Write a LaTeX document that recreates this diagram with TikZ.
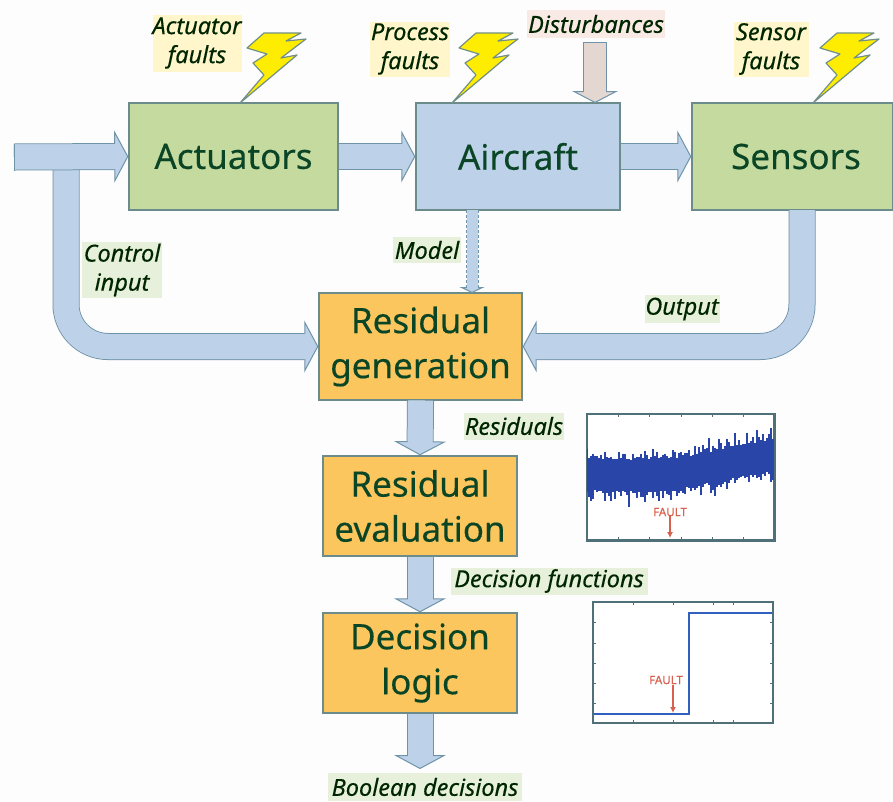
\documentclass[tikz,border=0pt]{standalone}
\usepackage{fontspec}
\setmainfont{Noto Sans}[UprightFeatures={FakeBold=.3},ItalicFeatures={FakeBold=.3}]
\usetikzlibrary{arrows.meta}
\definecolor{pagetint}{HTML}{FDFDFE}
\definecolor{flowblue}{HTML}{BDD2E8}
\definecolor{flowedge}{HTML}{6F93A8}
\definecolor{boxedge}{HTML}{6C8C8C}
\definecolor{greenbox}{HTML}{C4DA9E}
\definecolor{orangebox}{HTML}{FCC65E}
\definecolor{textgreen}{HTML}{0A4526}
\definecolor{paleyellow}{HTML}{FFF6CC}
\definecolor{palegreen}{HTML}{E6F0DA}
\definecolor{palepink}{HTML}{F9EAE6}
\definecolor{pinkarrow}{HTML}{E4D7D2}
\definecolor{noiseblue}{HTML}{2A45A8}
\definecolor{stepblue}{HTML}{3060C0}
\definecolor{faultred}{HTML}{D8604E}
\definecolor{frameedge}{HTML}{4F7078}
\tikzset{
	blockbox/.style={draw=boxedge,line width=1.4pt,text=textgreen,align=center,inner sep=0pt,font=\fontsize{35}{45}\selectfont},
	faultlabel/.style={inner sep=0pt,align=center,text=black!85!green,font=\fontsize{23.5}{29}\selectfont\itshape},
	flowline/.style n args={4}{double=#1,draw=flowedge,line width=1pt,double distance=#2,-{Triangle[length=#3,width=#4,fill=#1,line width=1pt]},
		postaction={draw=#1,double=#1,double distance=#2-2pt,line width=1pt,solid,-,shorten >=#3-2pt}},
	flowarrow/.style={flowline={flowblue}{25pt}{14pt}{52pt}},
	tailedge/.style={draw=flowedge,line width=1pt},
	boltshape/.style={fill=yellow!95!orange,draw=flowedge!80!olive,line width=1.2pt,line join=round},
	plotframe/.style={draw=frameedge,line width=1.5pt,inner sep=0pt},
	plottick/.style={draw=frameedge,line width=.8pt},
	faulttext/.style={inner sep=0pt,text=faultred,font=\fontsize{11.5}{12}\selectfont},
	faultarrow/.style={draw=faultred,line width=1.1pt,-{Latex[length=6pt,width=6pt]}}
}
\begin{document}
\begin{tikzpicture}[x=1pt,y=-1pt]
	\useasboundingbox (0,0) rectangle (893,801);
	\fill[pagetint] (0,0) rectangle (893,801);
	\node[blockbox,fill=greenbox,minimum width=209pt,minimum height=107pt] (actuators) at (233.5,156.5) {Actuators};
	\node[blockbox,fill=flowblue,minimum width=204pt,minimum height=107pt] (aircraft) at (518,156.5) {Aircraft};
	\node[blockbox,fill=greenbox,minimum width=201pt,minimum height=107pt] (sensors) at (792.5,156.5) {\hspace*{7pt}Sensors};
	\node[blockbox,fill=orangebox,minimum width=203pt,minimum height=107pt] (resgen) at (420.5,346.5) {Residual\\generation};
	\node[blockbox,fill=orangebox,minimum width=194pt,minimum height=100pt] (reseval) at (420,506) {Residual\\evaluation};
	\node[blockbox,fill=orangebox,minimum width=194pt,minimum height=100pt] (declogic) at (420,663) {Decision\\logic};
	\coordinate (input) at (14,157);
	\coordinate (inputtap) at (66,162);
	\coordinate (controlbend) at (66,346.5);
	\coordinate (outputbend) at (802,346.5);
	\coordinate (sensorsout) at (802,210);
	\coordinate (distin) at (595,42);
	\coordinate (distout) at (595,103);
	\coordinate (modelin) at (472,210);
	\coordinate (modelout) at (472,293);
	\coordinate (boolend) at (420,769);
	\draw[flowarrow,rounded corners=42pt] (inputtap)--(controlbend)--(resgen.west);
	\draw[flowarrow,rounded corners=42pt] (sensorsout)--(outputbend)--(resgen.east);
	\draw[flowarrow] (input)--(actuators.west);
	\draw[tailedge] (input)++(0,-13.5)--++(0,27);
	\draw[flowarrow] (actuators.east)--(aircraft.west);
	\draw[flowarrow] (aircraft.east)--(sensors.west);
	\draw[flowarrow] (resgen.south)--(reseval.north);
	\draw[flowarrow] (reseval.south)--(declogic.north);
	\draw[flowarrow] (declogic.south)--(boolend);
	\draw[flowline={pinkarrow}{22pt}{12pt}{46pt}] (distin)--(distout);
	\draw[tailedge] (distin)++(-12,0)--++(24,0);
	\draw[flowline={flowblue}{11pt}{6pt}{25pt},dash pattern=on 3pt off 2pt] (modelin)--(modelout);
	\foreach \x in {240,452,813}
		\filldraw[boltshape] (\x,103)--++(24,-28)--++(-11,-12)--++(14,-9)--++(-20,-6)--++(17,-15)--++(37,0)--++(-15,8)--++(20,-2)--++(-25,19)--++(16,-3)--cycle;
	\node[faultlabel,fill=paleyellow,minimum width=88pt,minimum height=57pt] (actfaults) at (197,43) {Actuator\\faults};
	\node[faultlabel,fill=paleyellow,minimum width=80pt,minimum height=55pt] (procfaults) at (410,49) {Process\\faults};
	\node[faultlabel,fill=palepink,minimum width=138pt,minimum height=28pt] (disturb) at (596,24) {Disturbances};
	\node[faultlabel,fill=paleyellow,minimum width=75pt,minimum height=55pt] (sensfaults) at (771,49) {Sensor\\faults};
	\node[faultlabel,fill=palegreen,minimum width=80pt,minimum height=56pt] (ctrlinput) at (122,270) {Control\\input};
	\node[faultlabel,fill=palegreen,minimum width=68pt,minimum height=26pt] (model) at (427,250) {Model};
	\node[faultlabel,fill=palegreen,minimum width=75pt,minimum height=28pt] (output) at (682,309) {Output};
	\node[faultlabel,fill=palegreen,minimum width=100pt,minimum height=27pt] (residuals) at (514,426) {Residuals};
	\node[faultlabel,fill=palegreen,minimum width=197pt,minimum height=27pt] (decfuncs) at (549,581) {Decision functions};
	\node[faultlabel,fill=palegreen,minimum width=194pt,minimum height=28pt] (booldec) at (425,787) {Boolean decisions};
	\node[plotframe,fill=white,minimum width=187pt,minimum height=126pt] (resplot) at (680.5,477) {};
	\node[plotframe,fill=white,minimum width=180pt,minimum height=121pt] (decplot) at (683,662.5) {};
	\begin{scope}
		\clip (resplot.south west) rectangle (resplot.north east);
		\pgfmathsetseed{11}
		\foreach \x in {587,589,...,775}{
			\pgfmathsetmacro\mid{\x<670 ? 475 : 475-20*(\x-670)/104}
			\pgfmathsetmacro\up{15+16*rnd*rnd+2*rnd}
			\pgfmathsetmacro\down{15+16*rnd*rnd+2*rnd}
			\draw[noiseblue,line width=2.2pt] (\x,\mid-\up)--(\x,\mid+\down);
		}
	\end{scope}
	\draw[plotframe] (resplot.south west) rectangle (resplot.north east);
	\foreach \x in {587,618,649,681,712,743,774}{
		\draw[plottick] (\x,414)--(\x,417);
		\draw[plottick] (\x,540)--(\x,537);
	}
	\node[faulttext] (resfault) at (670,512) {FAULT};
	\coordinate (resfaultend) at (670,538);
	\draw[faultarrow] (resfault.south)--(resfaultend);
	\coordinate (stepstart) at (594,714);
	\coordinate (stepa) at (689,714);
	\coordinate (stepb) at (689,613);
	\coordinate (stepend) at (772,613);
	\draw[stepblue,line width=1.9pt] (stepstart)--(stepa)--(stepb)--(stepend);
	\foreach \x in {593,633,673,713,733,773}{
		\draw[plottick] (\x,602)--(\x,605);
		\draw[plottick] (\x,723)--(\x,720);
	}
	\foreach \y in {602,622,643,663,683,703,723}{
		\draw[plottick] (593,\y)--(596,\y);
		\draw[plottick] (773,\y)--(770,\y);
	}
	\node[faulttext] (decfault) at (666,680) {FAULT};
	\coordinate (decfaultstart) at (673,685);
	\coordinate (decfaultend) at (673,713);
	\draw[faultarrow] (decfaultstart)--(decfaultend);
\end{tikzpicture}
\end{document}
